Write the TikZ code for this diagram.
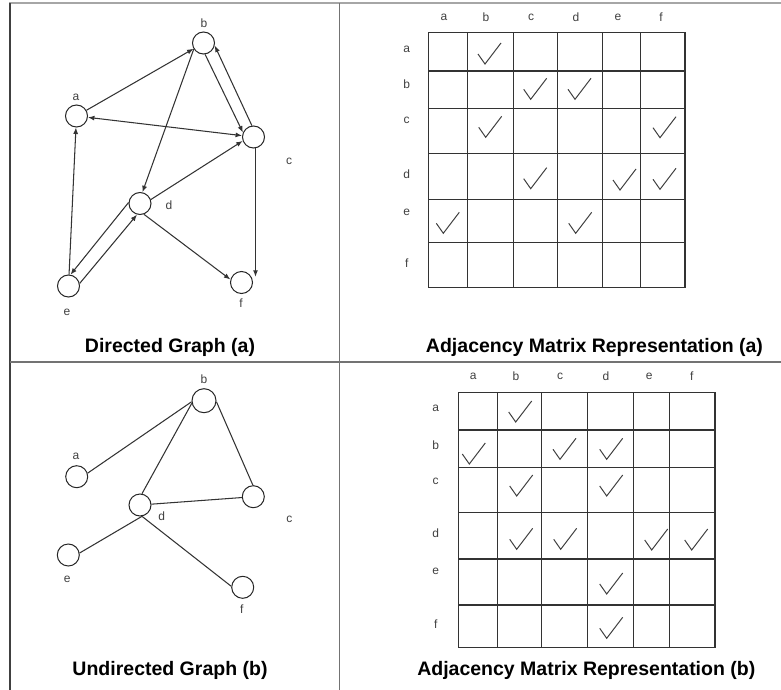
\documentclass[tikz,border=0pt]{standalone}
\usepackage{fontspec}
\setmainfont{Liberation Sans}
\usetikzlibrary{arrows.meta}
\begin{document}
\begin{tikzpicture}[x=1pt,y=-1pt,
  vtx/.style={circle,draw=black!85,line width=1pt,minimum size=22pt,inner sep=0pt,fill=white},
  bigvtx/.style={vtx,minimum size=24pt},
  lbl/.style={font=\fontsize{12}{12}\selectfont,text=black!75,inner sep=0pt},
  edge/.style={draw=black!80,line width=1.05pt},
  arr/.style={edge,-{Latex[length=6.5pt,width=5pt]}},
  dbl/.style={edge,{Latex[length=6.5pt,width=5pt]}-{Latex[length=6.5pt,width=5pt]}},
  gridline/.style={draw=black!80,line width=1.4pt,line cap=rect},
  title/.style={font=\bfseries\fontsize{19.5}{19.5}\selectfont,inner sep=0pt},
  frameline/.style={draw=black!55,line width=1.8pt},
  chk/.pic={\draw[black!75,line width=1pt] (-7,-10) -- (0,0) -- (16,-21);}
]
\useasboundingbox (0,0) rectangle (781,690);
% frame
\draw[frameline,black!35] (9,3.3) -- (781,3.3);
\draw[frameline,black!75,line width=2.2pt] (10,3.3) -- (10,690);
\draw[frameline] (339.5,3.3) -- (339.5,690);
\draw[frameline] (10,361.7) -- (781,361.7);

% ---------- Directed graph (a) ----------
\node[vtx] (a) at (76.5,116) {};
\node[vtx] (b) at (203.5,43) {};
\node[vtx] (c) at (253.5,137) {};
\node[vtx] (d) at (140,203.5) {};
\node[vtx] (e) at (68.5,286) {};
\node[vtx] (f) at (241.5,282.5) {};
\node[lbl] (la) at (76,97) {a};
\node[lbl] (lb) at (204,23) {b};
\node[lbl] (lc) at (289,161) {c};
\node[lbl] (ld) at (169,205) {d};
\node[lbl] (le) at (67,312) {e};
\node[lbl] (lf) at (241,303) {f};
\draw[arr] (a) -- (b);
\draw[dbl] (a) -- (c);
\draw[arr] (b.-82) -- (c.157);
\draw[arr] (c.98) -- (b.-13);
\draw[arr] (b.-148) -- (d.78);
\draw[arr] (d.20) -- (c.-160);
\coordinate (cf) at (c.-80 |- f.30);
\draw[arr] (c.-80) -- (cf);
\draw[arr] (e) -- (a);
\draw[arr] (d.175) -- (e.80);
\draw[arr] (e.13) -- (d.-105);
\draw[arr] (d.-70) -- (f.165);
\node[title] (t1) at (170,347) {Directed Graph (a)};

% ---------- Matrix (a) ----------
\foreach \x in {428.3,467.7,513.3,557.7,602.7,640.7,685} \draw[gridline] (\x,32.7) -- (\x,287.3);
\foreach \y in {32.7,71,108.3,153.3,199.3,242.3,287.3} \draw[gridline] (428.3,\y) -- (685,\y);
\foreach \t/\x in {a/444,b/486,c/531,d/576,e/618,f/661} \node[lbl] (ca-\t) at (\x,17) {\t};
\foreach \t/\y in {a/49,b/84,c/120,d/174,e/212,f/263} \node[lbl] (ra-\t) at (406.7,\y) {\t};
\foreach \p in {(485,64),(530.7,99.3),(575,99.3),(485.7,137.3),(660,137.7),(530.7,188.7),(620,190),(660,189.3),(443.3,233.3),(575.7,233.3)} \pic at \p {chk};
\node[title] (t2) at (594.5,347) {Adjacency Matrix Representation (a)};

% ---------- Undirected graph (b) ----------
\node[vtx] (a2) at (76.7,476.7) {};
\node[bigvtx] (b2) at (204,400.7) {};
\node[vtx] (c2) at (253.3,496.7) {};
\node[vtx] (d2) at (140,505) {};
\node[vtx] (e2) at (68.3,555) {};
\node[vtx] (f2) at (242.7,587.3) {};
\node[lbl] (la2) at (76,456) {a};
\node[lbl] (lb2) at (204,379) {b};
\node[lbl] (lc2) at (289.3,519.3) {c};
\node[lbl] (ld2) at (161.7,516.7) {d};
\node[lbl] (le2) at (67.3,579.3) {e};
\node[lbl] (lf2) at (241.7,609.3) {f};
\draw[edge] (a2.18) -- (b2.-175);
\draw[edge] (b2.-168) -- (d2.80);
\draw[edge] (b2.-5) -- (c2.92);
\draw[edge] (d2) -- (c2);
\draw[edge] (d2.-80) -- (e2.10);
\draw[edge] (d2.-80) -- (f2.175);
\node[title] (t3) at (170,670) {Undirected Graph (b)};

% ---------- Matrix (b) ----------
\foreach \x in {458.3,497.3,541.7,587.3,633.3,669.3,715} \draw[gridline] (\x,392.3) -- (\x,647.3);
\foreach \y in {392.3,430,467.7,512.7,559,605,647.3} \draw[gridline] (458.3,\y) -- (715,\y);
\foreach \t/\x in {a/473.3,b/516,c/560,d/606,e/649.3,f/691.7} \node[lbl] (cb-\t) at (\x,376) {\t};
\foreach \t/\y in {a/408.3,b/445,c/481,d/533.3,e/571,f/624} \node[lbl] (rb-\t) at (435.7,\y) {\t};
\foreach \p in {(515.7,422),(469.3,464),(560,459.3),(606.7,459.3),(516.7,496),(606.7,496),(516.7,549.3),(560.7,549.3),(651.7,550),(691.7,550),(606.7,594),(606.7,638.3)} \pic at \p {chk};
\node[title] (t4) at (586.3,670) {Adjacency Matrix Representation (b)};
\end{tikzpicture}
\end{document}
